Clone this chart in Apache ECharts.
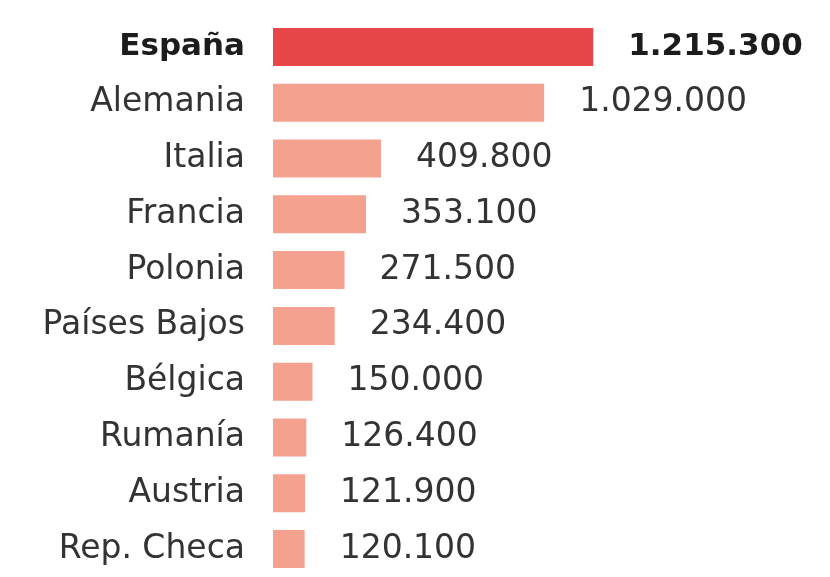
<!DOCTYPE html>
<html><head><meta charset="utf-8">
<script src="https://cdn.jsdelivr.net/npm/echarts@6/dist/echarts.min.js"></script>
<style>html,body{margin:0;padding:0;background:#fff}#c{width:830px;height:577px}</style>
</head><body><div id="c"></div>
<script>
const categories = ["España","Alemania","Italia","Francia","Polonia","Países Bajos","Bélgica","Rumanía","Austria","Rep. Checa"];
const values = [1215300,1029000,409800,353100,271500,234400,150000,126400,121900,120100];
const highlight = "España";

function fmt(v){return String(v).replace(/\B(?=(\d{3})+(?!\d))/g,".");}

const FONT = 'DejaVu Sans';
const chart = echarts.init(document.getElementById('c'));
chart.setOption({
  animation:false,
  grid:{left:273, top:19, width:527, height:559, containLabel:false},
  xAxis:{type:'value', min:0, max:2000000, show:false},
  yAxis:{type:'category', data:categories, inverse:true,
    axisLine:{show:false}, axisTick:{show:false},
    axisLabel:{margin:28, fontFamily:FONT, fontSize:33, color:'#333333',
      formatter:(v)=> v===highlight ? '{b|'+v+'}' : v,
      rich:{b:{fontFamily:FONT, fontSize:31, fontWeight:'bold', color:'#1c1c1c'}}}},
  series:[{type:'bar', barWidth:38,
    data: values.map((v,i)=>({value:v,
      itemStyle:{color: categories[i]===highlight ? '#e8474a' : '#f5a18f'},
      label:{fontWeight: categories[i]===highlight ? 'bold':'normal',
             fontSize: categories[i]===highlight ? 31 : 33,
             color: categories[i]===highlight ? '#1c1c1c':'#333333'}})),
    label:{show:true, position:'right', distance:35, fontFamily:FONT, fontSize:33,
      formatter:(p)=>fmt(p.value)}
  }]
});
</script></body></html>
